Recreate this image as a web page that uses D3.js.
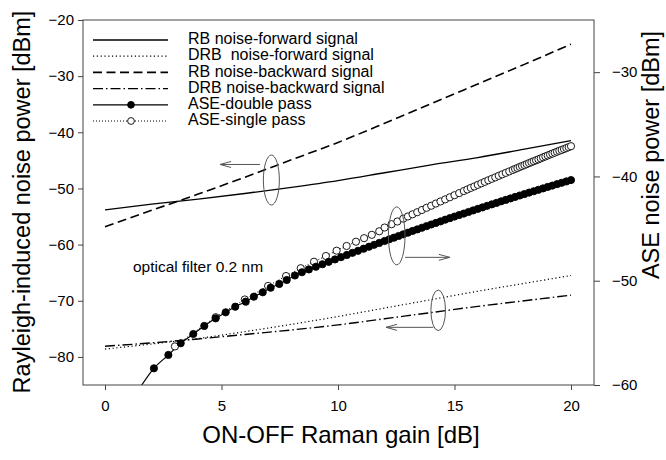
<!DOCTYPE html>
<html>
<head>
<meta charset="utf-8">
<script src="https://cdn.jsdelivr.net/npm/d3@7"></script>
<style>
  body { margin: 0; background: #fff; }
  svg { display: block; font-family: "Liberation Sans", Arial, sans-serif; }
  text { white-space: pre; }
</style>
</head>
<body>
<svg id="chart" width="666" height="460"></svg>
<script>
// Data (gain in dB, powers in dBm)

const gain = [0, 2, 4, 6, 8, 10, 12, 14, 16, 18, 20];
const rbForward = [-53.8, -52.8, -51.9, -50.9, -49.8, -48.6, -47.2, -45.8, -44.5, -43.0, -41.5];
const drbForward = [-78.6, -77.7, -76.7, -75.5, -74.2, -72.8, -71.3, -69.8, -68.3, -66.9, -65.5];
const rbBackward = [-56.8, -53.9, -51.0, -48.0, -44.9, -41.8, -38.4, -34.9, -31.4, -27.9, -24.3];
const drbBackward = [-78.1, -77.5, -76.8, -76.0, -75.2, -74.3, -73.2, -72.1, -71.0, -70.0, -69.0];

// ASE curves use the right axis
const aseDoubleGain = [1.4, 2.10, 2.72, 3.25, 3.79, 4.26, 4.75, 5.18, 5.59, 6.04, 6.39, 6.77, 7.11, 7.48, 7.80, 8.15,
  8.45, 8.75, 9.05, 9.33, 9.6, 9.87, 10.13, 10.38, 10.62, 10.86, 11.1, 11.33, 11.55, 11.77, 12.0,
  12.2, 12.4, 12.6, 12.8, 13.0, 13.2, 13.4, 13.6, 13.8, 14.0, 14.2, 14.4, 14.6, 14.8, 15.0,
  15.2, 15.4, 15.6, 15.8, 16.0, 16.2, 16.4, 16.6, 16.8, 17.0, 17.2, 17.4, 17.6, 17.8, 18.0,
  18.2, 18.4, 18.6, 18.8, 19.0, 19.2, 19.4, 19.6, 19.8, 20.0];
const aseDouble = [-60.6, -58.40, -57.12, -56.00, -55.11, -54.34, -53.61, -53.03, -52.49, -52.01, -51.53, -51.11, -50.67, -50.31, -49.93, -49.50,
  -49.19, -48.92, -48.66, -48.42, -48.19, -47.96, -47.74, -47.53, -47.33, -47.13, -46.93, -46.74, -46.56, -46.38, -46.19,
  -46.03, -45.87, -45.71, -45.55, -45.39, -45.23, -45.08, -44.92, -44.77, -44.61, -44.46, -44.31, -44.15, -44.00, -43.85,
  -43.70, -43.56, -43.41, -43.26, -43.11, -42.97, -42.82, -42.68, -42.54, -42.39, -42.25, -42.11, -41.97, -41.83, -41.69,
  -41.55, -41.42, -41.28, -41.15, -41.01, -40.88, -40.74, -40.61, -40.48, -40.35];

const aseSingleGain = [3.0, 4.75, 6.0, 7.0, 7.77, 8.4, 8.97, 9.48, 9.94, 10.37, 10.77, 11.12, 11.45, 11.77, 12.0,
  12.3, 12.55, 12.8, 13.0, 13.2, 13.4, 13.6, 13.8, 14.0, 14.2, 14.4, 14.6, 14.8, 15.0, 15.2, 15.4,
  15.55, 15.7, 15.85, 16.0, 16.15, 16.3, 16.45, 16.6, 16.75, 16.9, 17.05, 17.2, 17.35, 17.5,
  17.6, 17.7, 17.8, 17.9, 18.0, 18.1, 18.2, 18.3, 18.4, 18.5, 18.6, 18.7, 18.8, 18.9, 19.0,
  19.1, 19.2, 19.3, 19.4, 19.5, 19.6, 19.7, 19.8, 19.9, 20.0];
const aseSingle = [-56.3, -53.5, -51.8, -50.5, -49.55, -48.8, -48.18, -47.63, -47.12, -46.67, -46.26, -45.92, -45.6, -45.26, -44.9,
  -44.58, -44.32, -44.05, -43.84, -43.63, -43.43, -43.22, -43.01, -42.81, -42.60, -42.40, -42.20, -42.00, -41.80, -41.60, -41.40,
  -41.25, -41.10, -40.96, -40.81, -40.66, -40.52, -40.37, -40.23, -40.09, -39.94, -39.80, -39.66, -39.52, -39.38,
  -39.28, -39.19, -39.09, -39.00, -38.91, -38.82, -38.72, -38.63, -38.54, -38.45, -38.36, -38.27, -38.17, -38.08, -37.99,
  -37.90, -37.81, -37.72, -37.63, -37.54, -37.46, -37.37, -37.28, -37.19, -37.10];

const legendLabels = [
  "RB noise-forward signal",
  "DRB  noise-forward signal",
  "RB noise-backward signal",
  "DRB noise-backward signal",
  "ASE-double pass",
  "ASE-single pass"
];

const xTicks = [0, 5, 10, 15, 20];
const leftTicks = [-80, -70, -60, -50, -40, -30, -20];
const rightTicks = [-60, -50, -40, -30];

// Annotations: ellipse centres and arrows, in data units (axis = which y scale)
const ellipses = [
  { g: 7.14, v: -48.5, axis: "L", rx: 8, ry: 25 },
  { g: 12.52, v: -45.7, axis: "R", rx: 8.3, ry: 29 },
  { g: 14.3, v: -71.7, axis: "L", rx: 7.3, ry: 20.3 }
];
const arrows = [
  { g1: 6.65, g2: 4.94, v: -45.73, axis: "L" },
  { g1: 12.88, g2: 14.8, v: -47.76, axis: "R" },
  { g1: 14.09, g2: 12.06, v: -74.73, axis: "L" }
];

// Layout
const plot = { left: 83, right: 594, top: 20, bottom: 385 };
const svg = d3.select("#chart");

const x = d3.scaleLinear().domain([0, 20]).range([105, 571]);
const yL = d3.scaleLinear().domain([-85, -20]).range([plot.bottom, plot.top]);
const yR = d3.scaleLinear().domain([-60, -25]).range([plot.bottom, plot.top]);

svg.append("defs").append("clipPath").attr("id", "clip")
  .append("rect")
  .attr("x", plot.left).attr("y", plot.top)
  .attr("width", plot.right - plot.left).attr("height", plot.bottom - plot.top);

// Series styles
const series = [
  { xs: gain, ys: rbForward, y: yL, dash: null, width: 1.3 },
  { xs: gain, ys: drbForward, y: yL, dash: "1.2,2.6", width: 1.2 },
  { xs: gain, ys: rbBackward, y: yL, dash: "9,4.5", width: 1.6 },
  { xs: gain, ys: drbBackward, y: yL, dash: "10,3,1.5,3", width: 1.4 },
  { xs: aseDoubleGain, ys: aseDouble, y: yR, dash: null, width: 1.2, marker: "filled" },
  { xs: aseSingleGain, ys: aseSingle, y: yR, dash: "1,2", width: 1, marker: "open" }
];

const plotG = svg.append("g").attr("clip-path", "url(#clip)");

series.forEach(s => {
  const pts = s.xs.map((g, i) => [g, s.ys[i]]);
  const line = d3.line()
    .x(d => x(d[0]))
    .y(d => s.y(d[1]))
    .curve(d3.curveMonotoneX);
  plotG.append("path")
    .datum(pts)
    .attr("fill", "none")
    .attr("stroke", "#000")
    .attr("stroke-width", s.width)
    .attr("stroke-dasharray", s.dash)
    .attr("d", line);
});

// markers: single pass first so the filled dots sit on top
function drawMarkers(s) {
  const pts = s.xs.map((g, i) => [g, s.ys[i]]);
  plotG.append("g").selectAll("circle")
    .data(pts)
    .enter().append("circle")
    .attr("cx", d => x(d[0]))
    .attr("cy", d => s.y(d[1]))
    .attr("r", 3.6)
    .attr("fill", s.marker === "filled" ? "#000" : "#fff")
    .attr("stroke", "#000")
    .attr("stroke-width", 0.9);
}
drawMarkers(series[5]);
drawMarkers(series[4]);

// Frame
svg.append("rect")
  .attr("x", plot.left).attr("y", plot.top)
  .attr("width", plot.right - plot.left).attr("height", plot.bottom - plot.top)
  .attr("fill", "none").attr("stroke", "#444").attr("stroke-width", 1);

// Axes
function styleAxis(g) {
  g.select(".domain").remove();
  g.selectAll(".tick line").attr("stroke", "#444");
  g.selectAll(".tick text").attr("fill", "#000").style("font-size", "15px")
    .style("font-family", '"Liberation Sans", Arial, sans-serif');
}

svg.append("g")
  .attr("transform", `translate(0,${plot.bottom})`)
  .call(d3.axisBottom(x).tickValues(xTicks).tickSize(5).tickPadding(10))
  .call(styleAxis);

svg.append("g")
  .attr("transform", `translate(${plot.left},0)`)
  .call(d3.axisLeft(yL).tickValues(leftTicks).tickSize(5).tickPadding(4))
  .call(styleAxis);

svg.append("g")
  .attr("transform", `translate(${plot.right},0)`)
  .call(d3.axisRight(yR).tickValues(rightTicks).tickSize(6).tickPadding(12))
  .call(styleAxis);

// Axis titles
svg.append("text")
  .attr("x", 341).attr("y", 443)
  .attr("text-anchor", "middle")
  .style("font-size", "24px")
  .text("ON-OFF Raman gain [dB]");

svg.append("text")
  .attr("transform", "translate(30,202) rotate(-90)")
  .attr("text-anchor", "middle")
  .style("font-size", "23.5px")
  .text("Rayleigh-induced noise power [dBm]");

svg.append("text")
  .attr("transform", "translate(659,155) rotate(-90)")
  .attr("text-anchor", "middle")
  .style("font-size", "23.5px")
  .text("ASE noise power [dBm]");

// Annotations
const ann = svg.append("g").attr("stroke", "#555").attr("fill", "none").attr("stroke-width", 1);

ellipses.forEach(e => {
  const ys = e.axis === "L" ? yL : yR;
  ann.append("ellipse")
    .attr("cx", x(e.g)).attr("cy", ys(e.v))
    .attr("rx", e.rx).attr("ry", e.ry);
});

arrows.forEach(a => {
  const ys = a.axis === "L" ? yL : yR;
  const x1 = x(a.g1), x2 = x(a.g2), yy = ys(a.v);
  const dir = x2 > x1 ? 1 : -1;
  ann.append("path")
    .attr("d", `M${x1},${yy}H${x2}M${x2 - dir * 11},${yy - 3}L${x2},${yy}L${x2 - dir * 11},${yy + 3}`);
});

svg.append("text")
  .attr("x", x(1.2)).attr("y", yL(-64.2))
  .attr("dominant-baseline", "middle")
  .style("font-size", "15.5px")
  .text("optical filter 0.2 nm");

// Legend
const legend = svg.append("g");
legendLabels.forEach((label, i) => {
  const s = series[i];
  const yy = 40 + i * 16.2;
  legend.append("line")
    .attr("x1", 93).attr("x2", 168).attr("y1", yy).attr("y2", yy)
    .attr("stroke", "#000")
    .attr("stroke-width", s.width)
    .attr("stroke-dasharray", s.dash);
  if (s.marker) {
    legend.append("circle")
      .attr("cx", 131).attr("cy", yy).attr("r", 3.4)
      .attr("fill", s.marker === "filled" ? "#000" : "#fff")
      .attr("stroke", "#000").attr("stroke-width", 0.9);
  }
  legend.append("text")
    .attr("x", 188).attr("y", yy)
    .attr("dominant-baseline", "middle")
    .style("font-size", "16px")
    .text(label);
});
</script>
</body>
</html>
